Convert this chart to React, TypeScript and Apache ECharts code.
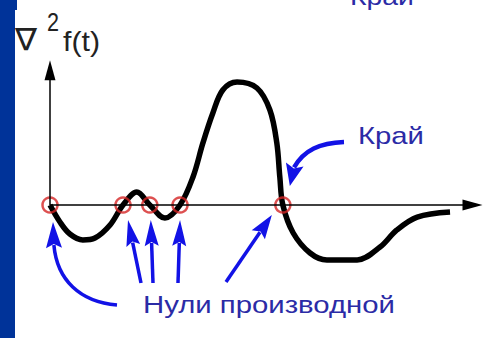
import React, { useEffect, useRef } from "react";
import * as echarts from "echarts";

// curve samples of ∇²f(t)
const T = [0, 0.23, 0.46, 0.76, 1.04, 1.39, 1.69, 2.01, 2.31, 2.66, 3.01, 3.31, 3.54, 3.77, 4.0, 4.33, 4.79, 5.09, 5.25, 5.32, 5.39, 5.63, 6.02, 6.41, 7.11, 7.64, 8.03, 8.5, 9.26];
const F = [0, -1.17, -2.0, -2.41, -2.28, -1.38, 0, 0.9, 0, -0.9, 0, 1.93, 4.28, 6.34, 7.93, 8.48, 8.07, 6.55, 4.28, 1.93, 0, -1.93, -3.31, -3.79, -3.79, -2.9, -1.72, -0.83, -0.48];
// zero crossings (derivative zeros / edge)
const ZEROS = [0, 1.69, 2.31, 3.01, 5.39];
const X_MAX = 10;
const Y_MIN = -5;
const Y_MAX = 10;
const AXIS_X_END = 9.78;
const AXIS_Y_END = 9.3;
const LABEL_Y = "f(t)";
const LABEL_EDGE = "Край";
const LABEL_ZEROS = "Нули производной";

const BLUE = "#1212e6";
const TEXT_BLUE = "#2b2ba6";
const FONT = "Liberation Sans, Arial, sans-serif";

function head(tx: number, ty: number, fx: number, fy: number, len: number, hw: number) {
  const dx = tx - fx, dy = ty - fy;
  const d = Math.hypot(dx, dy) || 1;
  const ux = dx / d, uy = dy / d;
  const bx = tx - ux * len, by = ty - uy * len;
  const px = -uy, py = ux;
  return {
    base: [bx + ux * 3, by + uy * 3],
    el: {
      type: "polygon",
      shape: { points: [[tx, ty], [bx + px * hw, by + py * hw], [bx + ux * 4, by + uy * 4], [bx - px * hw, by - py * hw]] },
      style: { fill: BLUE },
      silent: true,
    },
  };
}

function straightArrow(fx: number, fy: number, tx: number, ty: number, len: number, hw: number) {
  const h = head(tx, ty, fx, fy, len, hw);
  return [
    { type: "line", shape: { x1: fx, y1: fy, x2: h.base[0], y2: h.base[1] }, style: { stroke: BLUE, lineWidth: 3.5 }, silent: true },
    h.el,
  ];
}

function measure(text: string, font: string) {
  const c = document.createElement("canvas").getContext("2d");
  if (!c) return 1;
  c.font = font;
  return c.measureText(text).width || 1;
}

function wideText(text: string, x: number, y: number, size: number, family: string, fill: string, width: number) {
  const font = `${size}px ${family}`;
  const sx = width / measure(text, font);
  return { type: "text", x, y, scaleX: sx, style: { text, font, fill, textVerticalAlign: "top" }, silent: true };
}

export default function App() {
  const ref = useRef<HTMLDivElement>(null);
  useEffect(() => {
    document.body.style.margin = "0";
    const chart = echarts.init(ref.current!, null, { renderer: "svg" });
    chart.setOption({
      animation: false,
      backgroundColor: "#ffffff",
      grid: { left: 50, right: 13, top: 60, bottom: 60.5 },
      xAxis: { type: "value", min: 0, max: X_MAX, show: false },
      yAxis: { type: "value", min: Y_MIN, max: Y_MAX, show: false },
      series: [
        {
          type: "line",
          data: [],
          z: 1,
          silent: true,
          markLine: {
            silent: true,
            symbol: ["none", "triangle"],
            symbolSize: [11, 20],
            label: { show: false },
            lineStyle: { color: "#000", width: 1.5, type: "solid" },
            data: [
              [{ coord: [0, 0] }, { coord: [AXIS_X_END, 0] }],
              [{ coord: [0, 0] }, { coord: [0, AXIS_Y_END] }],
            ],
          },
        },
        {
          type: "line",
          data: T.map((t, i) => [t, F[i]]),
          smooth: 0.35,
          symbol: "none",
          z: 2,
          lineStyle: { color: "#000", width: 5.5 },
          silent: true,
        },
        {
          type: "scatter",
          data: ZEROS.map((t) => [t, 0]),
          symbol: "circle",
          symbolSize: 15,
          z: 3,
          itemStyle: { color: "rgba(0,0,0,0)", borderColor: "#d42424", borderWidth: 2.5 },
          silent: true,
        },
      ],
    });

    const z = ZEROS.map((t) => chart.convertToPixel({ xAxisIndex: 0, yAxisIndex: 0 }, [t, 0]) as number[]);
    const els: any[] = [];
    els.push({ type: "rect", shape: { x: 0, y: 0, width: 15, height: 338 }, style: { fill: "#003399" }, silent: true });
    els.push({ type: "rect", shape: { x: 0, y: 0, width: 17, height: 10 }, style: { fill: "#003399" }, silent: true });

    // big curved arrow to first zero
    {
      const tip = [z[0][0] + 3, z[0][1] + 17];
      const h = head(tip[0], tip[1], tip[0] + 1, tip[1] + 26, 26, 8);
      els.push({
        type: "bezierCurve",
        shape: { x1: 117, y1: 305, cpx1: 80, cpy1: 302, cpx2: 57, cpy2: 280, x2: h.base[0], y2: h.base[1] },
        style: { stroke: BLUE, lineWidth: 3.5, fill: null },
        silent: true,
      });
      els.push(h.el);
    }
    els.push(...straightArrow(141, 283, z[1][0] + 5, z[1][1] + 15, 26, 7));
    els.push(...straightArrow(153, 283, z[2][0] + 1, z[2][1] + 15, 26, 7));
    els.push(...straightArrow(178, 283, z[3][0], z[3][1] + 15, 26, 7));
    els.push(...straightArrow(226, 282, z[4][0] - 11, z[4][1] + 10, 24, 8));
    // curved arrow from "Край"
    {
      const tip = [z[4][0] + 7, z[4][1] - 19];
      const h = head(tip[0], tip[1], tip[0] + 5, tip[1] - 22, 22, 9);
      els.push({
        type: "bezierCurve",
        shape: { x1: 344, y1: 142, cpx1: 320, cpy1: 143, cpx2: 304, cpy2: 150, x2: h.base[0], y2: h.base[1] },
        style: { stroke: BLUE, lineWidth: 4.5, fill: null },
        silent: true,
      });
      els.push(h.el);
    }

    els.push(wideText("∇", 15, 24, 31, "DejaVu Sans", "#222", 22));
    els.push(wideText("2", 47, 10, 25, FONT, "#222", 12));
    els.push(wideText(LABEL_Y, 63, 27, 28, FONT, "#222", 37));
    els.push(wideText(LABEL_EDGE, 358, 124, 24, FONT, TEXT_BLUE, 66));
    els.push(wideText(LABEL_EDGE, 350, -15, 24, FONT, TEXT_BLUE, 64));
    els.push(wideText(LABEL_ZEROS, 143, 293, 24, FONT, TEXT_BLUE, 252));

    chart.setOption({ graphic: { elements: els } });
    return () => chart.dispose();
  }, []);
  return <div ref={ref} style={{ width: 495, height: 338 }} />;
}
